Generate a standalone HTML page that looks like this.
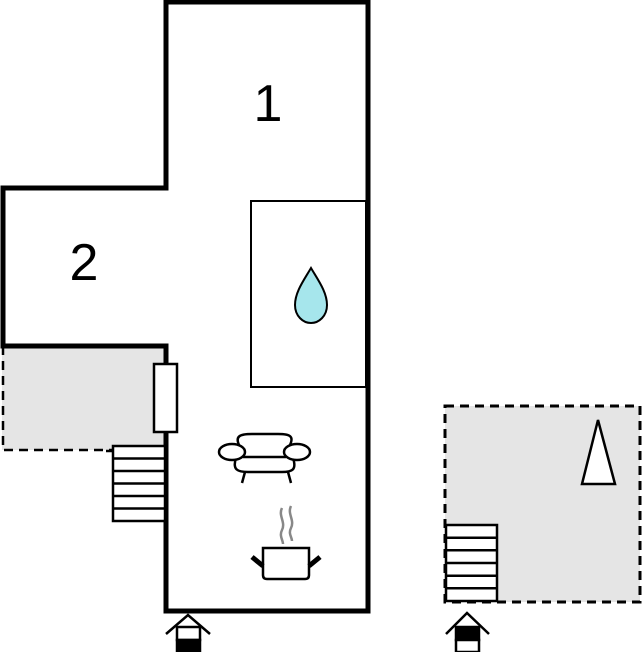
<!DOCTYPE html>
<html><head><style>html,body{margin:0;padding:0;background:#fff;}svg{display:block}</style></head>
<body>
<svg width="642" height="652" viewBox="0 0 642 652" xmlns="http://www.w3.org/2000/svg">
<rect x="2" y="346" width="164" height="104" fill="#e5e5e5"/>
<path d="M3,346 V450 H113" fill="none" stroke="#000" stroke-width="2.5" stroke-dasharray="9,6"/>
<rect x="445" y="406" width="195" height="196" fill="#e5e5e5" stroke="#000" stroke-width="3" stroke-dasharray="9,6"/>
<polygon points="166,2 368,2 368,611 166,611 166,346 3,346 3,188 166,188" fill="#fff" stroke="#000" stroke-width="5"/>
<line x1="166" y1="192" x2="166" y2="342" stroke="#fff" stroke-width="6"/>
<rect x="251" y="201" width="115" height="186" fill="none" stroke="#000" stroke-width="2"/>
<path d="M311,268 C304,280 295,292 295,305 C295,316 303,323 311,323 C319,323 327,316 327,305 C327,292 318,280 311,268 Z" fill="#a6e6ec" stroke="#000" stroke-width="2"/>
<rect x="154" y="364" width="23" height="68" fill="#fff" stroke="#000" stroke-width="2.5"/>
<g fill="#fff" stroke="#000" stroke-width="2.5">
<rect x="113" y="446" width="52" height="75"/>
<line x1="113" y1="458.5" x2="165" y2="458.5"/><line x1="113" y1="471" x2="165" y2="471"/><line x1="113" y1="483.5" x2="165" y2="483.5"/><line x1="113" y1="496" x2="165" y2="496"/><line x1="113" y1="508.5" x2="165" y2="508.5"/>
<line x1="106" y1="451" x2="113" y2="451"/>
<rect x="446" y="525" width="51" height="76"/>
<line x1="446" y1="537.7" x2="497" y2="537.7"/><line x1="446" y1="550.3" x2="497" y2="550.3"/><line x1="446" y1="563" x2="497" y2="563"/><line x1="446" y1="575.7" x2="497" y2="575.7"/><line x1="446" y1="588.3" x2="497" y2="588.3"/>
<polygon points="598,420 582,484 615,484"/>
</g>
<g fill="#fff" stroke="#000" stroke-width="2.5">
<path d="M240,447 C234,436 240,434 252,434 H278 C290,434 295,436 289,447"/>
<path d="M236,458 C232,470 238,472 248,472 H282 C292,472 297,470 293,458"/>
<line x1="243" y1="457" x2="286" y2="457"/>
<ellipse cx="232" cy="452" rx="13" ry="8"/>
<ellipse cx="297" cy="452" rx="13" ry="8"/>
<line x1="245" y1="472" x2="242" y2="483"/><line x1="288" y1="472" x2="291" y2="483"/>
<path d="M263,548 H309 V575 Q309,579 305,579 H267 Q263,579 263,575 Z"/>
</g>
<line x1="252" y1="557" x2="263" y2="566" stroke="#000" stroke-width="5"/>
<line x1="320" y1="557" x2="309" y2="566" stroke="#000" stroke-width="5"/>
<path d="M282,508 C278,516 286,522 282,530 C279,536 283,540 283,544" fill="none" stroke="#888" stroke-width="2.5"/>
<path d="M291,506 C287,514 295,520 291,528 C288,534 292,537 292,541" fill="none" stroke="#888" stroke-width="2.5"/>
<g stroke="#000" stroke-width="2.5" fill="#fff">
<polyline points="166,634 188,615 210,634" fill="none"/>
<rect x="177" y="627" width="23" height="13"/>
<rect x="177" y="640" width="23" height="12" fill="#000"/>
<polyline points="446,634 467,613 489,634" fill="none"/>
<rect x="456" y="627" width="23" height="13" fill="#000"/>
<rect x="456" y="640" width="23" height="12"/>
</g>
<text x="268" y="121" font-family="Liberation Sans, sans-serif" font-size="52" text-anchor="middle">1</text>
<text x="84" y="280" font-family="Liberation Sans, sans-serif" font-size="52" text-anchor="middle">2</text>
</svg>
</body></html>
